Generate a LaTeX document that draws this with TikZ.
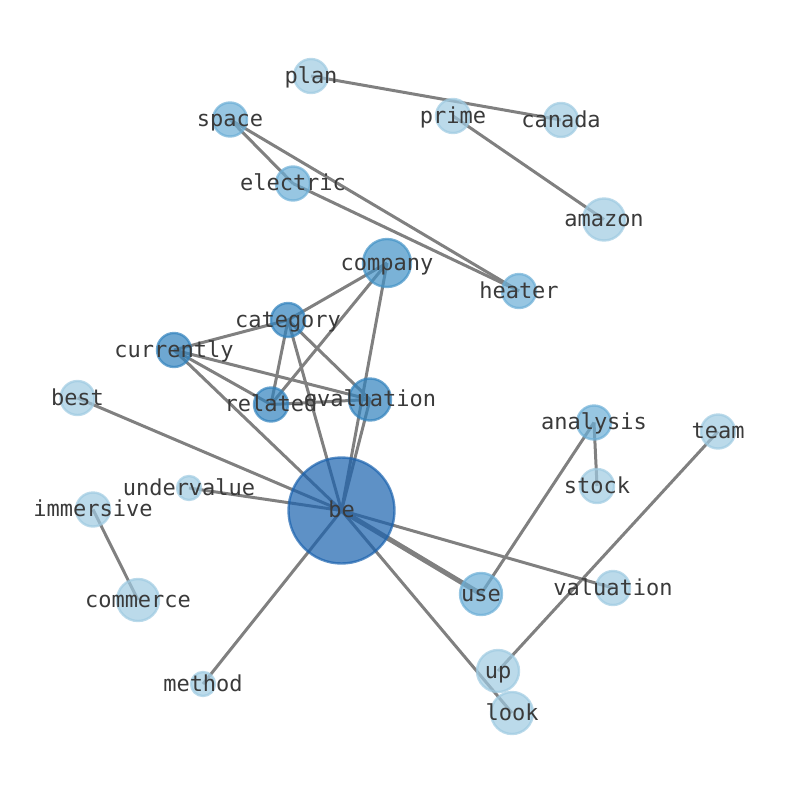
\documentclass[tikz,border=0pt]{standalone}
\usepackage{fontspec}
\newfontfamily\lblfont{DejaVu Sans Mono}
\definecolor{edgegray}{RGB}{128,128,128}
\definecolor{clight}{HTML}{9ECAE1}
\definecolor{cmed}{HTML}{6BAED6}
\definecolor{cdark}{HTML}{3182BD}
\definecolor{ccomp}{HTML}{4292C6}
\definecolor{cbe}{HTML}{1A62AE}
\definecolor{txt}{RGB}{58,58,58}
\tikzset{
  edge/.style={draw=edgegray, line width=3pt},
  wideedge/.style={draw=edgegray, line width=5pt},
  vert/.style={circle, inner sep=0pt, outer sep=0pt, line width=2.4pt, fill opacity=0.7, draw opacity=0.7},
  vlight/.style={vert, fill=clight, draw=clight},
  vmed/.style={vert, fill=cmed, draw=cmed},
  vdark/.style={vert, fill=cdark, draw=cdark},
  vcomp/.style={vert, fill=ccomp, draw=ccomp},
  vbe/.style={vert, fill=cbe, draw=cbe},
  lbl/.style={inner sep=0pt, text=txt, font=\lblfont\fontsize{22}{26}\selectfont, text height=0.928em, text depth=0.236em, anchor=center, yshift=-4pt},
}
\begin{document}
\begin{tikzpicture}[x=1pt, y=-1pt]
\useasboundingbox (0,0) rectangle (794,790);
% positions
\coordinate (plan) at (311,76);
\coordinate (prime) at (453,116);
\coordinate (canada) at (561,120);
\coordinate (space) at (230,119.5);
\coordinate (electric) at (293,183.5);
\coordinate (amazon) at (604,219.5);
\coordinate (company) at (387,263);
\coordinate (heater) at (519,291);
\coordinate (category) at (288,320);
\coordinate (currently) at (174,350);
\coordinate (best) at (77.5,398);
\coordinate (related) at (271,404.5);
\coordinate (evaluation) at (370,399.5);
\coordinate (analysis) at (594,422.5);
\coordinate (team) at (718,431.5);
\coordinate (undervalue) at (189,488);
\coordinate (stock) at (597,486);
\coordinate (immersive) at (93,509.5);
\coordinate (be) at (341.5,510.5);
\coordinate (commerce) at (138,600);
\coordinate (use) at (481,594);
\coordinate (valuation) at (613,588);
\coordinate (up) at (498,671);
\coordinate (method) at (203,684);
\coordinate (look) at (512,713);
% edges
\draw[edge] (plan) -- (canada);
\draw[edge] (prime) -- (amazon);
\draw[edge] (space) -- (electric);
\draw[edge] (space) -- (heater);
\draw[edge] (electric) -- (heater);
\draw[edge] (company) -- (category);
\draw[edge] (company) -- (related);
\draw[edge] (company) -- (be);
\draw[edge] (category) -- (currently);
\draw[edge] (category) -- (related);
\draw[edge] (category) -- (evaluation);
\draw[edge] (category) -- (be);
\draw[edge] (currently) -- (related);
\draw[edge] (currently) -- (evaluation);
\draw[edge] (currently) -- (be);
\draw[edge] (related) -- (evaluation);
\draw[edge] (evaluation) -- (be);
\draw[edge] (best) -- (be);
\draw[edge] (undervalue) -- (be);
\draw[edge] (immersive) -- (commerce);
\draw[wideedge] (be) -- (use);
\draw[edge] (be) -- (valuation);
\draw[edge] (be) -- (look);
\draw[edge] (be) -- (method);
\draw[edge] (analysis) -- (stock);
\draw[edge] (analysis) -- (use);
\draw[edge] (team) -- (up);
% vertices
\node[vlight, minimum size=34pt] (plan-v) at (plan) {};
\node[vlight, minimum size=34pt] (prime-v) at (prime) {};
\node[vlight, minimum size=34pt] (canada-v) at (canada) {};
\node[vmed, minimum size=34pt] (space-v) at (space) {};
\node[vmed, minimum size=34pt] (electric-v) at (electric) {};
\node[vlight, minimum size=42pt] (amazon-v) at (amazon) {};
\node[vcomp, minimum size=48pt] (company-v) at (company) {};
\node[vmed, minimum size=34pt] (heater-v) at (heater) {};
\node[vdark, minimum size=34pt] (category-v) at (category) {};
\node[vdark, minimum size=34pt] (currently-v) at (currently) {};
\node[vlight, minimum size=34pt] (best-v) at (best) {};
\node[vdark, minimum size=34pt] (related-v) at (related) {};
\node[vdark, minimum size=42pt] (evaluation-v) at (evaluation) {};
\node[vmed, minimum size=34pt] (analysis-v) at (analysis) {};
\node[vlight, minimum size=34pt] (team-v) at (team) {};
\node[vlight, minimum size=24pt] (undervalue-v) at (undervalue) {};
\node[vlight, minimum size=34pt] (stock-v) at (stock) {};
\node[vlight, minimum size=34pt] (immersive-v) at (immersive) {};
\node[vbe, minimum size=106pt] (be-v) at (be) {};
\node[vlight, minimum size=42pt] (commerce-v) at (commerce) {};
\node[vmed, minimum size=42pt] (use-v) at (use) {};
\node[vlight, minimum size=34pt] (valuation-v) at (valuation) {};
\node[vlight, minimum size=42pt] (up-v) at (up) {};
\node[vlight, minimum size=24pt] (method-v) at (method) {};
\node[vlight, minimum size=42pt] (look-v) at (look) {};
% labels
\node[lbl] (plan-t) at (plan) {plan};
\node[lbl] (prime-t) at (prime) {prime};
\node[lbl] (canada-t) at (canada) {canada};
\node[lbl] (space-t) at (space) {space};
\node[lbl] (electric-t) at (electric) {electric};
\node[lbl] (amazon-t) at (amazon) {amazon};
\node[lbl] (company-t) at (company) {company};
\node[lbl] (heater-t) at (heater) {heater};
\node[lbl] (category-t) at (category) {category};
\node[lbl] (currently-t) at (currently) {currently};
\node[lbl] (best-t) at (best) {best};
\node[lbl] (related-t) at (related) {related};
\node[lbl] (evaluation-t) at (evaluation) {evaluation};
\node[lbl] (analysis-t) at (analysis) {analysis};
\node[lbl] (team-t) at (team) {team};
\node[lbl] (undervalue-t) at (undervalue) {undervalue};
\node[lbl] (stock-t) at (stock) {stock};
\node[lbl] (immersive-t) at (immersive) {immersive};
\node[lbl] (be-t) at (be) {be};
\node[lbl] (commerce-t) at (commerce) {commerce};
\node[lbl] (use-t) at (use) {use};
\node[lbl] (valuation-t) at (valuation) {valuation};
\node[lbl] (up-t) at (up) {up};
\node[lbl] (method-t) at (method) {method};
\node[lbl] (look-t) at (look) {look};
\end{tikzpicture}
\end{document}
